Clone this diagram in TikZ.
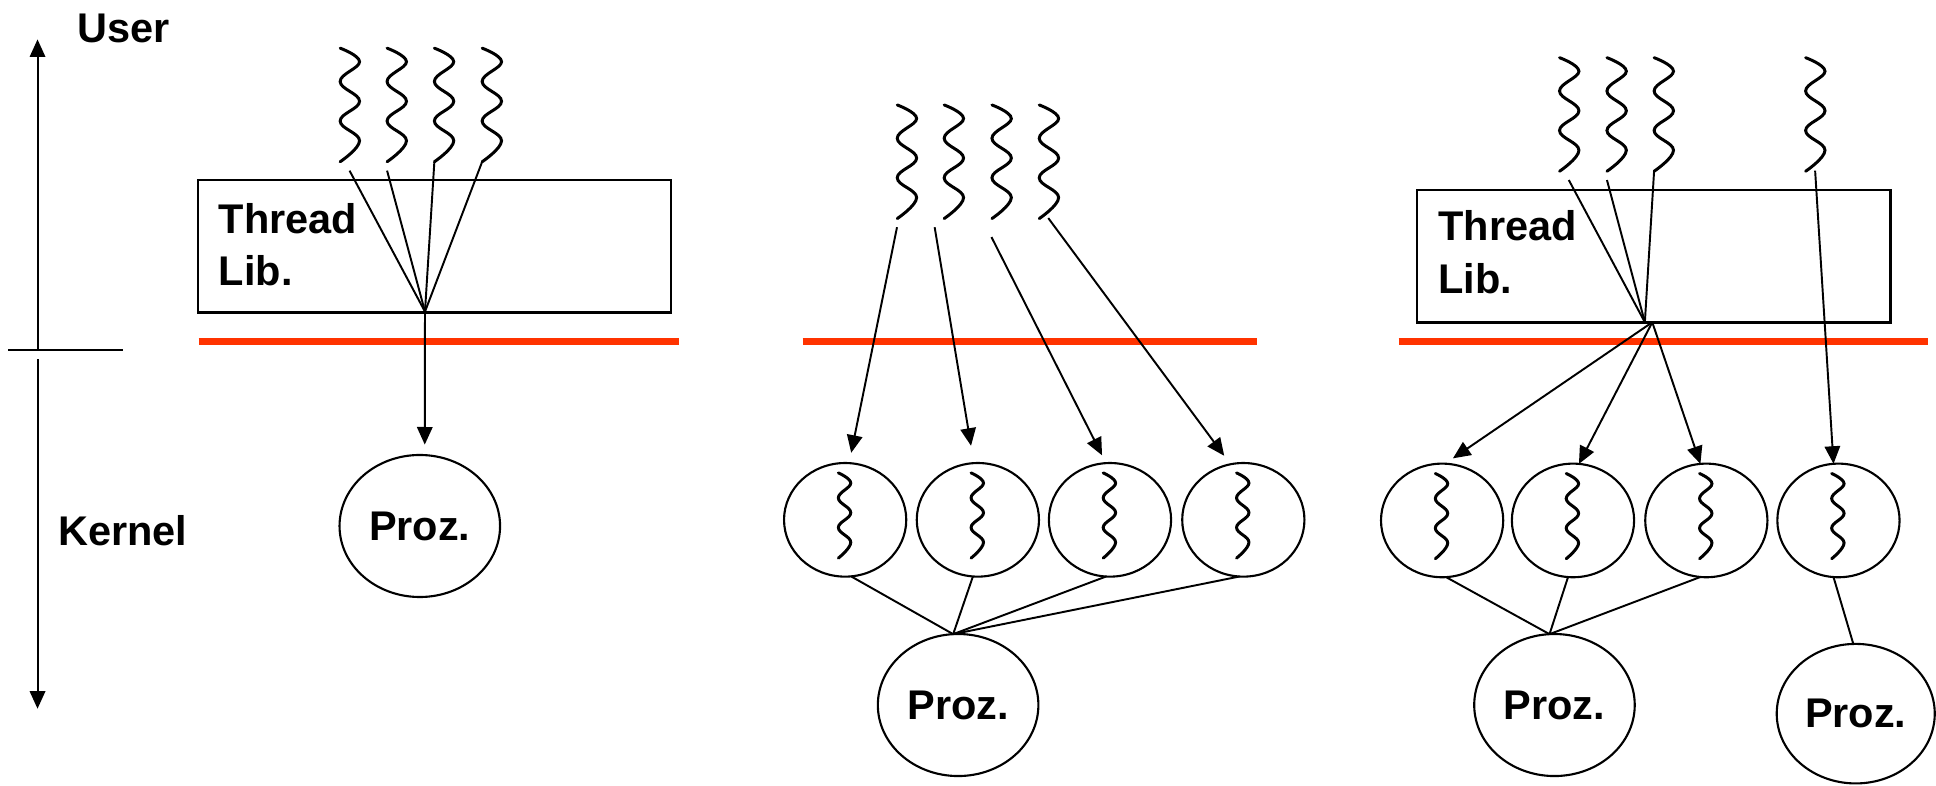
\documentclass[tikz,border=0pt]{standalone}
\usepackage{fontspec}
\setmainfont{Liberation Sans}
\usetikzlibrary{arrows.meta,shapes.geometric}
\definecolor{kernelline}{RGB}{255,51,0}
\tikzset{thread/.pic={\draw[wave line] plot[smooth,tension=.7] coordinates {(0,0) (15.7,11) (0,27) (15.7,43) (0,59) (15.7,75) (0,92)};}}

\begin{document}
\begin{tikzpicture}
	[x=0.012347cm,y=-0.012347cm,font=\fontsize{11.8pt}{14.9pt}\selectfont\bfseries,
	wave line/.style={line width=.85pt,line cap=round},
	thread link/.style={line width=.55pt},
	kernel arrow/.style={-{Triangle[length=5pt,width=4.4pt]}},
	lib box/.style={shape=rectangle,draw,line width=.65pt,minimum width=4.731cm,minimum height=1.323cm,inner sep=0pt,outer sep=0pt},
	lib text/.style={anchor=north west,align=left,inner sep=0pt},
	side text/.style={anchor=base west,inner sep=0pt},
	kthread node/.style={shape=ellipse,draw,line width=.6pt,minimum width=1.222cm,minimum height=1.136cm,inner sep=0pt,outer sep=0pt},
	proz node/.style={shape=ellipse,draw,line width=.6pt,minimum width=1.605cm,minimum height=1.42cm,inner sep=0pt,outer sep=0pt},
	kernel border/.style={draw=kernelline,line width=2pt}]
	\useasboundingbox (0,0) rectangle (1568,636);
	
	% user / kernel axis
	\coordinate (utop) at (30.4,31.9);
	\coordinate (umid) at (30.4,283.5);
	\coordinate (ktop) at (30.4,291);
	\coordinate (kbot) at (30.4,574);
	\draw[thread link] (6.5,283.5) -- (99.4,283.5);
	\node [side text] (user) at (62,34.6) {User};
	\node [side text] (kernel) at (46.5,441.5) {Kernel};
	\path[draw,thread link]
	(umid) edge[kernel arrow] (utop)
	(ktop) edge[kernel arrow] (kbot)
	;
	
	% many to one
	\draw[kernel border] (160.9,276.4) -- (550.3,276.4);
	\node [lib box] (lib1) at (351.8,199.6) {};
	\node [lib text] (libtext1) at (176.8,164) {Thread\\Lib.};
	\foreach \x in {275.5,313.5,351.8,390.5}
	\pic at (\x,39) {thread};
	\coordinate (ua1) at (283.1,138.2);
	\coordinate (ua2) at (313.5,138.2);
	\coordinate (ua3) at (351.8,131);
	\coordinate (ua4) at (390.5,131);
	\coordinate (hub1) at (344.2,252.4);
	\node [proz node] (p1) at (340,426) {Proz.};
	
	\path[draw,thread link]
	(ua1) edge (hub1)
	(ua2) edge (hub1)
	(ua3) edge (hub1)
	(ua4) edge (hub1)
	(hub1) edge[kernel arrow,shorten >=3pt] (p1.86)
	;
	
	% one to one
	\draw[kernel border] (650,276.7) -- (1017.8,276.7);
	\foreach \x in {726.7,764.7,803.4,841.7}
	\pic at (\x,85) {thread};
	\coordinate (ub1) at (726.5,184);
	\coordinate (ub2) at (757,184);
	\coordinate (ub3) at (803,192);
	\coordinate (ub4) at (849,176.6);
	\foreach \i/\x in {1/684.5,2/792,3/899,4/1007} {
		\node [kthread node] (kb\i) at (\x,421) {};
		\pic[xscale=.64,yscale=.75] at ([shift={(-5.5,-38)}]kb\i.center) {thread};
	}
	\node [proz node] (p2) at (776,571) {Proz.};
	
	\path[draw,thread link]
	(ub1) edge[kernel arrow,shorten >=3pt] (kb1.86)
	(ub2) edge[kernel arrow,shorten >=5pt] (kb2.94)
	(ub3) edge[kernel arrow,shorten >=2.5pt] (kb3.94)
	(ub4) edge[kernel arrow,shorten >=3pt] (kb4.103)
	(kb1.276) edge (p2.94)
	(kb2.265) edge (p2.94)
	(kb3.266) edge (p2.94)
	(kb4.266) edge (p2.94)
	;
	
	% many to many
	\draw[kernel border] (1132.8,276.7) -- (1561.6,276.7);
	\node [lib box] (lib3) at (1339.5,207.5) {};
	\node [lib text] (libtext3) at (1164.4,170) {Thread\\Lib.};
	\foreach \x in {1263.1,1301.5,1339.7,1462.4}
	\pic at (\x,46.7) {thread};
	\coordinate (uc1) at (1270.6,145.8);
	\coordinate (uc2) at (1301.5,145.8);
	\coordinate (uc3) at (1339.7,138.2);
	\coordinate (uc4) at (1470.1,138.2);
	\coordinate (hub3) at (1332.2,261);
	\coordinate (hub3o) at (1338.2,261);
	\foreach \i/\x in {1/1168,2/1274,3/1382,4/1489} {
		\node [kthread node] (kc\i) at (\x,421.5) {};
		\pic[xscale=.64,yscale=.75] at ([shift={(-5.5,-38)}]kc\i.center) {thread};
	}
	\node [proz node] (p3) at (1259,571) {Proz.};
	\node [proz node,minimum width=1.58cm,minimum height=1.395cm] (p4) at (1503,578) {Proz.};
	
	\path[draw,thread link]
	(uc1) edge (hub3)
	(uc2) edge (hub3)
	(uc3) edge (hub3)
	(hub3o) edge[kernel arrow,shorten >=2.7pt] (kc1.87)
	(hub3o) edge[kernel arrow] (kc2.84)
	(hub3o) edge[kernel arrow] (kc3.96)
	(uc4) edge[kernel arrow] (kc4.95)
	(kc1.274) edge (p3.94)
	(kc2.265) edge (p3.94)
	(kc3.264) edge (p3.94)
	(kc4.265) edge (p4.92)
	;
	
\end{tikzpicture}
\end{document}
